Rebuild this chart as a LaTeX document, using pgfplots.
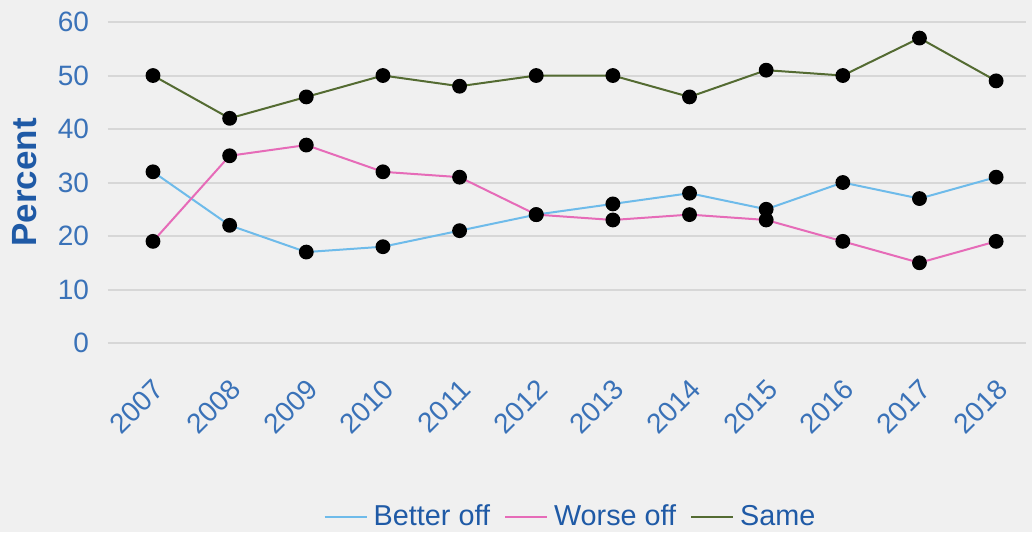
\documentclass[border=0pt]{standalone}
\usepackage{fontspec}
\setmainfont{Liberation Sans}
\usepackage{pgfplots}
\pgfplotsset{compat=1.18}

\definecolor{bgc}{HTML}{F0F0F0}
\definecolor{gridc}{HTML}{D7D7D7}
\definecolor{tickc}{HTML}{3A72B8}
\definecolor{labc}{HTML}{1F5AA6}
\definecolor{betterc}{HTML}{6EBBEA}
\definecolor{worsec}{HTML}{E66BB8}
\definecolor{samec}{HTML}{546B32}

\pgfplotstableread{
x better worse same
0 32 19 50
1 22 35 42
2 17 37 46
3 18 32 50
4 21 31 48
5 24 24 50
6 26 23 50
7 28 24 46
8 25 23 51
9 30 19 50
10 27 15 57
11 31 19 49
}\datatable

\begin{document}
\begin{tikzpicture}
\fill[bgc] (-54pt,-94.5pt) rectangle (462pt,171.5pt);
\begin{axis}[
    at={(0,0)}, anchor=south west,
    scale only axis, width=459pt, height=160.5pt,
    xmin=-0.587, xmax=11.39, ymin=0, ymax=60,
    axis line style={draw=none},
    major tick length=0pt,
    ymajorgrids, grid style={gridc, line width=1pt},
    ytick={0,10,...,60},
    xtick=data,
    xticklabels={2007,2008,2009,2010,2011,2012,2013,2014,2015,2016,2017,2018},
    ticklabel style={font=\fontsize{14pt}{16pt}\selectfont, text=tickc},
    /pgf/number format/assume math mode=true,
    xticklabel style={rotate=45, anchor=north east, inner sep=2pt, yshift=-9.9pt, xshift=-10.5pt},
    yticklabel style={anchor=east, xshift=-6pt},
    ylabel={\textbf{Percent}},
    every axis y label/.style={at={(axis description cs:-0.0904,0.5)}, rotate=90, anchor=center,
        font=\fontsize{17.5pt}{20pt}\selectfont, text=labc},
    legend columns=3,
    legend style={at={(axis description cs:0.505,-0.542)}, anchor=center, draw=none, fill=none,
        font=\fontsize{14.4pt}{16pt}\selectfont, text=labc,
        /tikz/every even column/.append style={column sep=5pt},
        /tikz/every odd column/.append style={column sep=1pt}},
    legend image code/.code={\draw[#1, line width=1pt] (0pt,0pt) -- (21pt,0pt);},
    every axis plot/.append style={line width=1pt, mark=*, mark size=3.2pt,
        mark options={fill=black, draw=black}},
]
\addplot[betterc] table[x=x, y=better] {\datatable};
\addlegendentry{Better off}
\addplot[worsec] table[x=x, y=worse] {\datatable};
\addlegendentry{Worse off}
\addplot[samec] table[x=x, y=same] {\datatable};
\addlegendentry{Same}
\end{axis}
\pgfresetboundingbox
\path[use as bounding box] (-54pt,-94.5pt) rectangle (462pt,171.5pt);
\end{tikzpicture}
\end{document}
